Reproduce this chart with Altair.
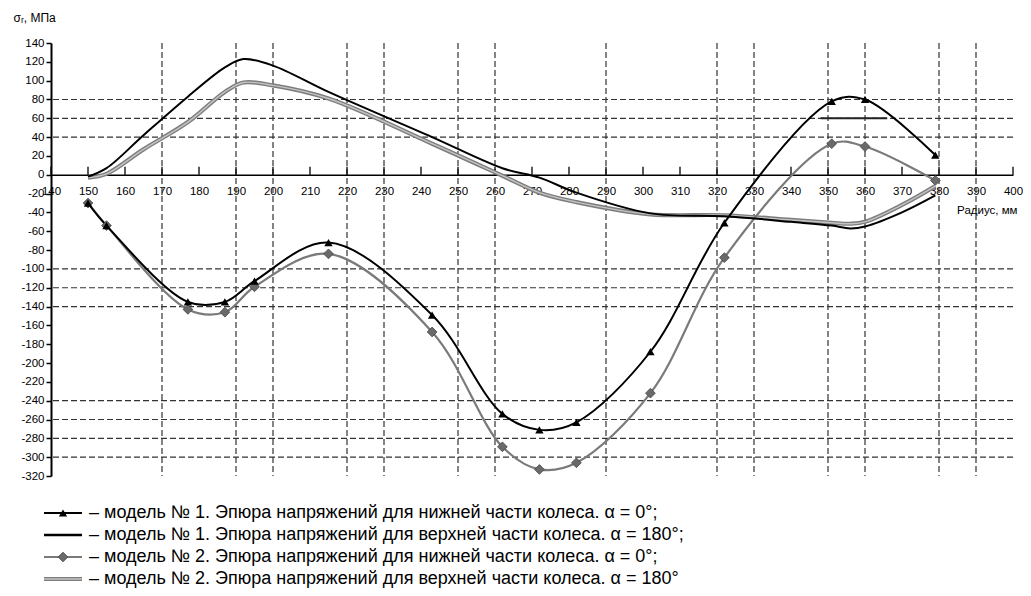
import altair as alt
import pandas as pd

FONT = "Liberation Sans"
W, H = 962, 433
X_MIN, X_MAX = 140, 400
Y_MIN, Y_MAX = -320, 140

# radii with markers (lower part of the wheel, alpha = 0)
x_lower = [150, 155, 177, 187, 195, 215, 243, 262, 272, 282, 302, 322, 351, 360, 379]
m1_lower = [-30, -54, -135, -135, -113, -72, -149, -254, -271, -263, -188, -51, 78, 80, 21]
m2_lower = [-30, -54, -143, -146, -119, -84, -167, -289, -313, -306, -232, -88, 33, 30, -6]

# upper part of the wheel, alpha = 180 (smooth lines without markers)
x_upper = [150, 155, 165, 177, 187, 192, 200, 215, 243, 262, 272, 282, 302, 322, 340, 351, 356, 360, 370, 379]
m1_upper = [-2, 7, 42, 83, 114, 123, 116, 88, 40, 7, -3, -19, -41, -44, -50, -54, -57, -55, -40, -22]
m2_upper = [-3, 1, 27, 56, 88, 98, 95, 81, 33, -1, -19, -29, -42, -43, -48, -51, -52, -50, -32, -12]

grid_x = [170, 190, 200, 220, 230, 250, 260, 290, 320, 330, 350, 360, 380, 390]
grid_y = [80, 60, 40, -100, -120, -140, -240, -260, -280, -300]
x_ticks = list(range(140, 401, 10))
y_ticks = list(range(-320, 141, 20))
seg_x = [348, 366]
seg_y = [60, 60]

legend_labels = [
    "– модель № 1. Эпюра напряжений для нижней части колеса. α = 0°;",
    "– модель № 1. Эпюра напряжений для верхней части колеса. α = 180°;",
    "– модель № 2. Эпюра напряжений для нижней части колеса. α = 0°;",
    "– модель № 2. Эпюра напряжений для верхней части колеса. α = 180°",
]

df_lower = pd.DataFrame({"x": x_lower, "m1": m1_lower, "m2": m2_lower})
df_upper = pd.DataFrame({"x": x_upper, "m1": m1_upper, "m2": m2_upper})
df_gx = pd.DataFrame({"gx": grid_x})
df_gy = pd.DataFrame({"gy": grid_y})
df_tk = pd.DataFrame({"tx": x_ticks})
df_seg = pd.DataFrame({"x": seg_x, "y": seg_y})
df_leg = pd.DataFrame({"row": list(range(len(legend_labels))), "label": legend_labels})

xs = alt.Scale(domain=[X_MIN, X_MAX], nice=False, zero=False)
ys = alt.Scale(domain=[Y_MIN, Y_MAX], nice=False, zero=False)

X_AXIS = alt.Axis(
    values=x_ticks, title="Радиус, мм", offset=-H * (0 - Y_MIN) / (Y_MAX - Y_MIN),
    grid=False, ticks=False, labelPadding=11, labelFont=FONT, labelFontSize=11.5,
    labelColor="black", labelFlush=False, labelOverlap=False,
    labelExpr="'' + datum.value",
    domainColor="black", domainWidth=1.5,
    titleX=W + 4, titleY=36, titleAlign="right", titleBaseline="middle",
    titleFont=FONT, titleFontSize=11.5, titleFontWeight="normal", titleColor="black",
)
Y_AXIS = alt.Axis(
    values=y_ticks, title="σᵣ, МПа", grid=False, tickSize=5, tickColor="black",
    tickWidth=1.5, domainColor="black", domainWidth=2, labelFont=FONT,
    labelFontSize=11.5, labelColor="black", labelPadding=2, labelOverlap=False,
    labelFlush=False, labelExpr="'' + datum.value",
    titleAngle=0, titleX=-38, titleY=-26, titleAlign="left", titleBaseline="middle",
    titleFont=FONT, titleFontSize=12, titleFontWeight="normal", titleColor="black",
)


def X(field):
    return alt.X(f"{field}:Q", scale=xs, axis=X_AXIS)


def Y(field):
    return alt.Y(f"{field}:Q", scale=ys, axis=Y_AXIS)


dash = [6, 3]
vgrid = alt.Chart(df_gx).mark_rule(color="#333333", strokeWidth=1.2, strokeDash=dash).encode(x=X("gx"))
hgrid = alt.Chart(df_gy).mark_rule(color="#333333", strokeWidth=1.2, strokeDash=dash).encode(y=Y("gy"))
ticks = alt.Chart(df_tk).mark_rule(color="black", strokeWidth=1.3).encode(
    x=X("tx"), y=alt.datum(0, scale=ys, axis=Y_AXIS), y2=alt.datum(8.5)
)
seg = alt.Chart(df_seg).mark_line(color="#222222", strokeWidth=2).encode(x=X("x"), y=Y("y"))

interp = "catmull-rom"
m2u_outer = alt.Chart(df_upper).mark_line(color="#7d7d7d", strokeWidth=4.2, interpolate=interp).encode(x=X("x"), y=Y("m2"))
m2u_inner = alt.Chart(df_upper).mark_line(color="#c4c4c4", strokeWidth=1.4, interpolate=interp).encode(x=X("x"), y=Y("m2"))
m2l_line = alt.Chart(df_lower).mark_line(color="#7a7a7a", strokeWidth=2.2, interpolate=interp).encode(x=X("x"), y=Y("m2"))
m1u_line = alt.Chart(df_upper).mark_line(color="black", strokeWidth=2, interpolate=interp).encode(x=X("x"), y=Y("m1"))
m1l_line = alt.Chart(df_lower).mark_line(color="black", strokeWidth=2, interpolate=interp).encode(x=X("x"), y=Y("m1"))
m2l_pts = alt.Chart(df_lower).mark_point(shape="diamond", filled=True, size=95, color="#6a6a6a",
                                         stroke="#444444", strokeWidth=0.8, opacity=1).encode(x=X("x"), y=Y("m2"))
m1l_pts = alt.Chart(df_lower).mark_point(shape="triangle-up", filled=True, size=70, color="black",
                                         opacity=1).encode(x=X("x"), y=Y("m1"))

main = alt.layer(vgrid, hgrid, ticks, seg, m2u_outer, m2u_inner, m2l_line, m1u_line, m1l_line, m2l_pts, m1l_pts)

# legend rows below the plot
yL = alt.Y("row:Q", scale=alt.Scale(domain=[0, 3], range=[H + 37, H + 103]), axis=None)
leg_base = alt.Chart(df_leg)


def leg_rule(i, color, width):
    return leg_base.transform_filter(alt.datum.row == i).mark_rule(color=color, strokeWidth=width).encode(
        x=alt.value(-7), x2=alt.value(31), y=yL)


leg_layers = [
    leg_rule(0, "black", 2),
    leg_rule(1, "black", 2.6),
    leg_rule(2, "#7a7a7a", 2.2),
    leg_rule(3, "#7d7d7d", 4.2),
    leg_rule(3, "#c4c4c4", 1.4),
    leg_base.transform_filter(alt.datum.row == 0).mark_point(shape="triangle-up", filled=True, size=70,
                                                             color="black", opacity=1).encode(x=alt.value(12), y=yL),
    leg_base.transform_filter(alt.datum.row == 2).mark_point(shape="diamond", filled=True, size=95, color="#6a6a6a",
                                                             stroke="#444444", strokeWidth=0.8, opacity=1).encode(x=alt.value(12), y=yL),
    leg_base.mark_text(align="left", baseline="middle", font=FONT, fontSize=18, color="black").encode(
        x=alt.value(38), y=yL, text="label:N"),
]
legend = alt.layer(*leg_layers)

chart = alt.layer(main, legend).resolve_scale(y="independent").properties(
    width=W, height=H, padding={"left": 5, "top": 3, "right": 0, "bottom": 0},
    background="white",
).configure_view(stroke=None)

chart.save("out.html", embed_options={"renderer": "svg", "actions": False})
